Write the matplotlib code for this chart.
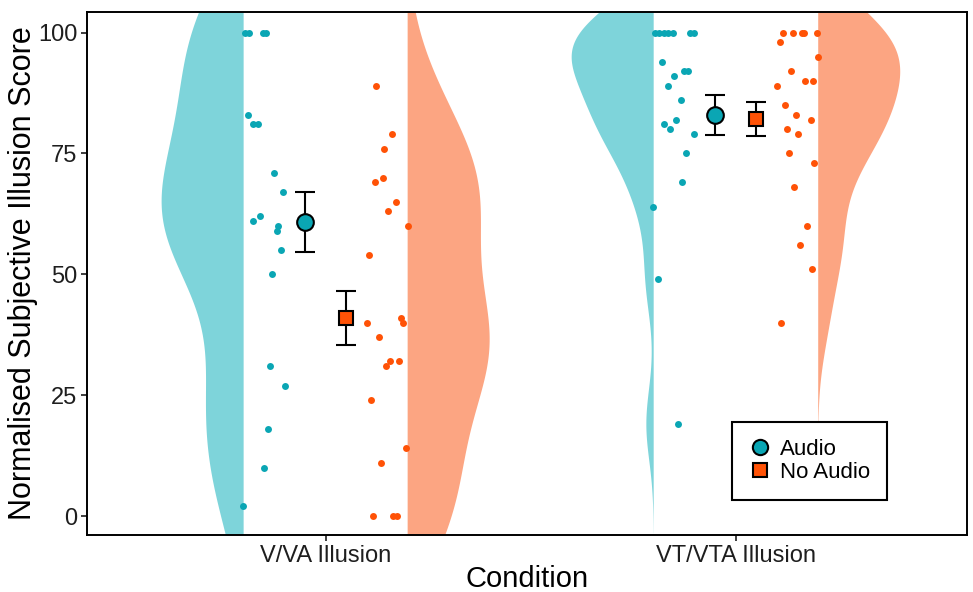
import numpy as np
import matplotlib.pyplot as plt
from matplotlib.lines import Line2D

plt.rcParams['font.family'] = ['Liberation Sans', 'DejaVu Sans']

# Categories
condiciones = ['V/VA Illusion', 'VT/VTA Illusion']

# Puntuaciones individuales
va_audio = [100, 100, 100, 100, 83, 81, 81, 71, 67, 61, 62, 60, 59, 55, 50, 31, 27, 18, 10, 2]
va_audio_jit = [-0.197, -0.187, -0.153, -0.146, -0.190, -0.177, -0.165, -0.126, -0.104, -0.177,
                -0.160, -0.116, -0.119, -0.109, -0.131, -0.136, -0.099, -0.141, -0.150, -0.202]

va_noaudio = [89, 79, 76, 70, 69, 65, 63, 60, 54, 40, 41, 40, 37, 32, 31, 32, 24, 14, 11, 0, 0, 0]
va_noaudio_jit = [0.124, 0.161, 0.142, 0.139, 0.120, 0.171, 0.153, 0.201, 0.106, 0.101, 0.183,
                  0.189, 0.130, 0.157, 0.147, 0.180, 0.111, 0.196, 0.134, 0.116, 0.165, 0.175]

vt_audio = [100, 100, 100, 100, 100, 100, 100, 94, 92, 92, 91, 89, 86, 82, 81, 80, 79, 75, 69, 64, 49, 19]
vt_audio_jit = [-0.197, -0.187, -0.175, -0.165, -0.153, -0.111, -0.101, -0.180, -0.126, -0.116, -0.150,
                -0.164, -0.134, -0.146, -0.175, -0.160, -0.101, -0.120, -0.130, -0.201, -0.189, -0.140]

vt_noaudio = [100, 100, 100, 100, 100, 98, 95, 92, 90, 90, 89, 85, 83, 82, 80, 79, 75, 73, 68, 60, 56, 51, 40]
vt_noaudio_jit = [0.116, 0.139, 0.161, 0.167, 0.198, 0.107, 0.201, 0.134, 0.169, 0.188, 0.101, 0.120,
                  0.147, 0.184, 0.124, 0.153, 0.129, 0.192, 0.142, 0.175, 0.157, 0.186, 0.111]

# Medias y error estandar
media_audio = [60.9, 83.0]
se_audio = [6.2, 4.15]
media_noaudio = [40.9, 82.1]
se_noaudio = [5.6, 3.5]

color_audio = '#0AA6B4'
color_noaudio = '#FF5206'
violin_audio = '#7ED4DA'
violin_noaudio = '#FCA582'


def densidad(valores):
    # KDE gaussiana con ancho de banda nrd0 (como R), extendida 3*bw
    x = np.asarray(valores, dtype=float)
    n = len(x)
    iqr = np.percentile(x, 75) - np.percentile(x, 25)
    bw = 0.9 * min(np.std(x, ddof=1), iqr / 1.34) * n ** -0.2
    y = np.linspace(x.min() - 3 * bw, x.max() + 3 * bw, 512)
    d = np.exp(-0.5 * ((y[:, None] - x[None, :]) / bw) ** 2).sum(axis=1)
    return y, d / d.max()


def medio_violin(ax, valores, pos, lado, color):
    y, d = densidad(valores)
    ancho = 0.2
    if lado == 'izq':
        ax.fill_betweenx(y, pos - ancho - ancho * d, pos - ancho, color=color, lw=0, zorder=1)
    else:
        ax.fill_betweenx(y, pos + ancho, pos + ancho + ancho * d, color=color, lw=0, zorder=1)


fig = plt.figure(figsize=(9.73, 5.92), dpi=100)
ax = fig.add_axes([0.0894, 0.0963, 0.9044, 0.8839])

grupos = [(va_audio, va_audio_jit, va_noaudio, va_noaudio_jit),
          (vt_audio, vt_audio_jit, vt_noaudio, vt_noaudio_jit)]

for i, (a, aj, na, naj) in enumerate(grupos):
    pos = i + 1
    medio_violin(ax, a, pos, 'izq', violin_audio)
    medio_violin(ax, na, pos, 'der', violin_noaudio)
    ax.scatter(pos + np.array(aj), a, s=25, color=color_audio, lw=0, zorder=3)
    ax.scatter(pos + np.array(naj), na, s=25, color=color_noaudio, lw=0, zorder=3)

posiciones = np.arange(1, len(condiciones) + 1)
ax.errorbar(posiciones - 0.05, media_audio, yerr=se_audio, fmt='o', color='black', ecolor='black',
            elinewidth=1.5, capsize=7.5, capthick=1.5, markersize=12, markerfacecolor=color_audio,
            markeredgecolor='black', markeredgewidth=1.5, zorder=4)
ax.errorbar(posiciones + 0.05, media_noaudio, yerr=se_noaudio, fmt='s', color='black', ecolor='black',
            elinewidth=1.5, capsize=7.5, capthick=1.5, markersize=10.5, markerfacecolor=color_noaudio,
            markeredgecolor='black', markeredgewidth=1.5, zorder=4)

ax.set_xlim(0.418, 2.564)
ax.set_ylim(-3.9, 104.3)
ax.set_xticks(posiciones)
ax.set_xticklabels(condiciones)
ax.set_yticks([0, 25, 50, 75, 100])
ax.tick_params(axis='both', labelsize=17, colors='#1e1e1e', length=4, width=1.2, pad=3)
for s in ax.spines.values():
    s.set_linewidth(1.4)
    s.set_color('black')

ax.set_xlabel('Condition', fontsize=21, labelpad=-1.5)
ax.set_ylabel('Normalised Subjective Illusion Score', fontsize=22, labelpad=0)

manejadores = [Line2D([], [], marker='o', ls='none', markersize=11, markerfacecolor=color_audio,
                      markeredgecolor='black', markeredgewidth=1.5, label='Audio'),
               Line2D([], [], marker='s', ls='none', markersize=10, markerfacecolor=color_noaudio,
                      markeredgecolor='black', markeredgewidth=1.5, label='No Audio')]
leg = ax.legend(handles=manejadores, loc='lower right', bbox_to_anchor=(0.909, 0.067), fontsize=16,
                frameon=True, fancybox=False, edgecolor='black', framealpha=1, borderaxespad=0,
                borderpad=0.75, labelspacing=0.1, handletextpad=0.4, handlelength=1.0)
leg.get_frame().set_linewidth(1.5)

fig.savefig('out.png', dpi=100)
